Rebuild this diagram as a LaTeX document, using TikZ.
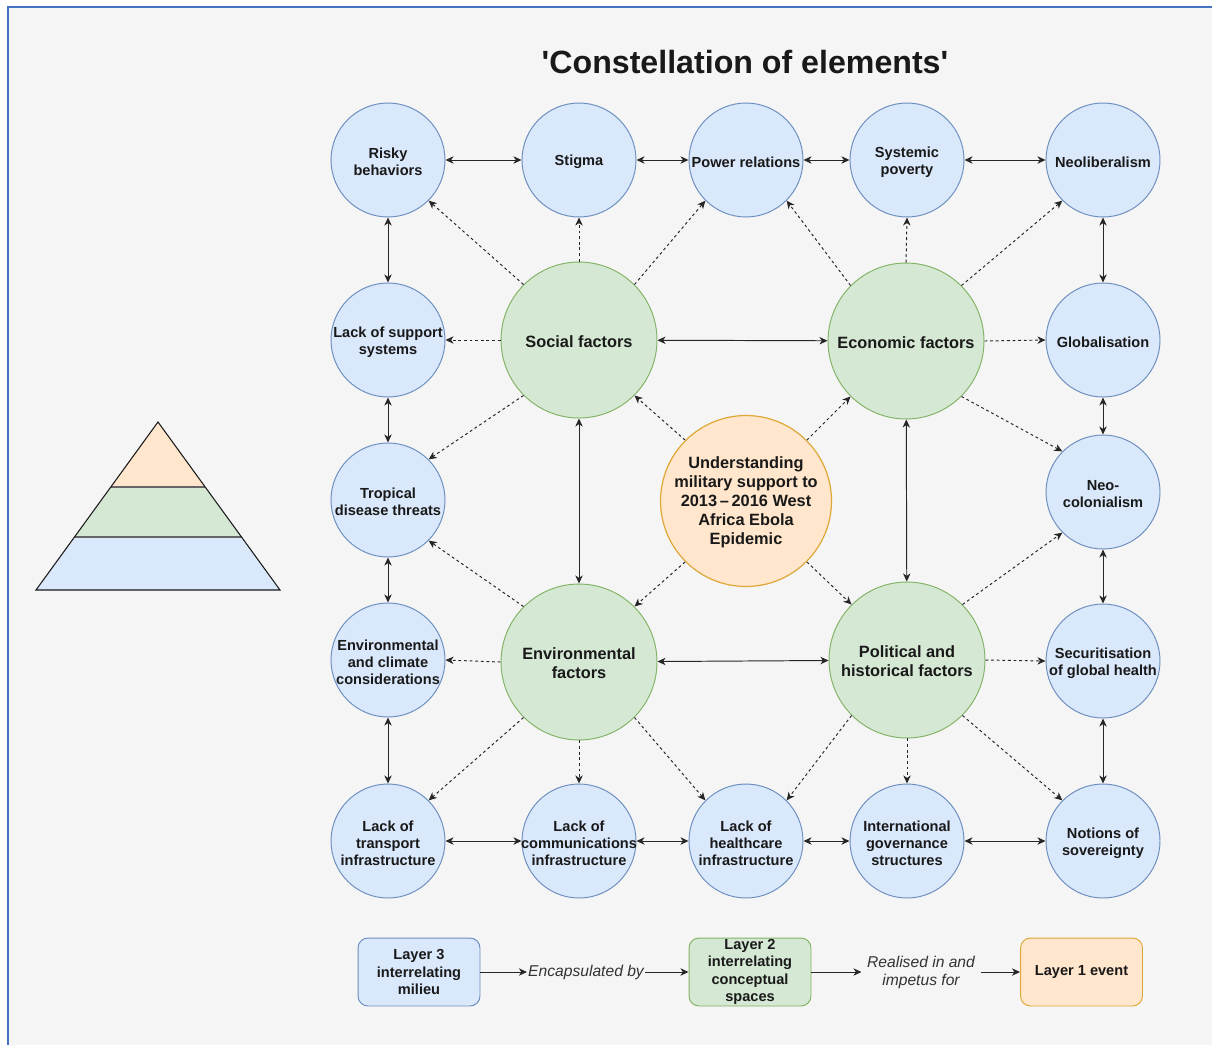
\documentclass[tikz,border=0pt]{standalone}
\usepackage{fontspec}
\setmainfont{Liberation Sans}
\newfontfamily\titlefont{Liberation Sans}[Ligatures=ResetAll]
\usetikzlibrary{arrows.meta}
\definecolor{bg}{HTML}{F5F5F5}
\definecolor{bfill}{HTML}{DAE8FC}
\definecolor{bline}{HTML}{6C8EBF}
\definecolor{gfill}{HTML}{D5E8D4}
\definecolor{gline}{HTML}{82B366}
\definecolor{ofill}{HTML}{FFE6CC}
\definecolor{oline}{HTML}{DFA93A}
\definecolor{frame}{HTML}{4472C4}
\newcommand\bcirc[3]{\node[bc] (#1) at (#2) {}; \node[bt] (#1-t) at (#1.center) {#3};}
\newcommand\gcirc[3]{\node[gc] (#1) at (#2) {}; \node[gt] (#1-t) at (#1.center) {#3};}
\begin{document}
\begin{tikzpicture}[x=0.02cm,y=-0.02cm,
  bc/.style={circle, draw=bline, fill=bfill, line width=0.55pt, minimum size=2.28cm, inner sep=0pt},
  gc/.style={circle, draw=gline, fill=gfill, line width=0.55pt, minimum size=3.12cm, inner sep=0pt},
  oc/.style={circle, draw=oline, fill=ofill, line width=0.7pt, minimum size=3.42cm, inner sep=0pt},
  bt/.style={font=\bfseries\fontsize{8.3}{9.7}\selectfont, align=center, inner sep=0pt, text=black!90, yshift=-1.1pt},
  gt/.style={font=\bfseries\fontsize{9.3}{10.8}\selectfont, align=center, inner sep=0pt, text=black!90, yshift=-0.9pt},
  bi/.style={{Stealth[length=4.6pt,width=4.2pt,inset=1.4pt]}-{Stealth[length=4.6pt,width=4.2pt,inset=1.4pt]}, line width=0.55pt, black!85},
  dotarr/.style={-{Stealth[length=4.6pt,width=4.2pt,inset=1.4pt]}, line width=0.55pt, dash pattern=on 1.6pt off 1.6pt, black!85},
  arr/.style={-{Stealth[length=4.6pt,width=4.2pt,inset=1.4pt]}, line width=0.55pt, black!85},
  lbox/.style={rectangle, rounded corners=0.2cm, minimum width=2.44cm, minimum height=1.36cm, line width=0.55pt, inner sep=0pt, align=center, font=\bfseries\fontsize{8.3}{9.9}\selectfont, text=black!90},
  itl/.style={font=\itshape\fontsize{8.9}{10.3}\selectfont, align=center, text=black!80}
]
\useasboundingbox (0,0) rectangle (1212,1045);
\fill[white] (0,0) rectangle (1212,1045);
\fill[bg] (8,7) rectangle (1212,1045);
\draw[frame, line width=1.6pt] (8,1045) -- (8,7) -- (1212,7);

% title
\node[font=\titlefont\bfseries\fontsize{18.3}{22}\selectfont, text=black!90] (title) at (745,62) {'Constellation of elements'};

% pyramid
\fill[ofill] (158,422) -- (205.2,487) -- (110.8,487) -- cycle;
\fill[gfill] (110.8,487) -- (205.2,487) -- (241.5,537) -- (74.5,537) -- cycle;
\fill[bfill] (74.5,537) -- (241.5,537) -- (280,590) -- (36,590) -- cycle;
\draw[black!60, line width=0.7pt] (110.8,487) -- (205.2,487) (74.5,537) -- (241.5,537);
\draw[black!90, line width=0.6pt] (158,422) -- (280,590) -- (36,590) -- cycle;

% blue circles
\bcirc{risky}{388,160}{Risky\\behaviors}
\bcirc{stigma}{579,160}{Stigma}
\bcirc{power}{746,160}{Power relations}
\bcirc{poverty}{907,160}{Systemic\\poverty}
\bcirc{neolib}{1103,160}{Neoliberalism}
\bcirc{support}{388,340}{Lack of support\\systems}
\bcirc{tropical}{388,500}{Tropical\\disease threats}
\bcirc{climate}{388,660}{Environmental\\and climate\\considerations}
\bcirc{transport}{388,841}{Lack of\\transport\\infrastructure}
\bcirc{comms}{579,841}{Lack of\\communications\\infrastructure}
\bcirc{health}{746,841}{Lack of\\healthcare\\infrastructure}
\bcirc{intl}{907,841}{International\\governance\\structures}
\bcirc{sovereign}{1103,841}{Notions of\\sovereignty}
\bcirc{global}{1103,340}{Globalisation}
\bcirc{neocol}{1103,492}{Neo-\\colonialism}
\bcirc{secur}{1103,661}{Securitisation\\of global health}

% green circles
\gcirc{social}{579,340}{Social factors}
\gcirc{econ}{906,341}{Economic factors}
\gcirc{env}{579,662}{Environmental\\factors}
\gcirc{polit}{907,660}{Political and\\historical factors}

% centre
\node[oc] (centre) at (746,501) {};
\node[gt] (centre-t) at (centre.center) {Understanding\\military support to\\2013\,–\,2016 West\\Africa Ebola\\Epidemic};

% solid double arrows
\draw[bi] (risky) -- (stigma);
\draw[bi] (stigma) -- (power);
\draw[bi] (power) -- (poverty);
\draw[bi] (poverty) -- (neolib);
\draw[bi] (risky) -- (support);
\draw[bi] (support) -- (tropical);
\draw[bi] (tropical) -- (climate);
\draw[bi] (climate) -- (transport);
\draw[bi] (neolib) -- (global);
\draw[bi] (global) -- (neocol);
\draw[bi] (neocol) -- (secur);
\draw[bi] (secur) -- (sovereign);
\draw[bi] (transport) -- (comms);
\draw[bi] (comms) -- (health);
\draw[bi] (health) -- (intl);
\draw[bi] (intl) -- (sovereign);
\draw[bi] (social) -- (econ);
\draw[bi] (social) -- (env);
\draw[bi] (econ) -- (polit);
\draw[bi] (env) -- (polit);

% dotted arrows from centre
\draw[dotarr] (centre.north west) -- (social.south east);
\draw[dotarr] (centre.north east) -- (econ.south west);
\draw[dotarr] (centre.south west) -- (env.north east);
\draw[dotarr] (centre.south east) -- (polit.north west);

% social
\draw[dotarr] (social.north west) -- (risky.south east);
\draw[dotarr] (social.north) -- (stigma.south);
\draw[dotarr] (social.north east) -- (power.south west);
\draw[dotarr] (social.west) -- (support.east);
\draw[dotarr] (social.south west) -- (tropical.north east);
% economic
\draw[dotarr] (econ.north west) -- (power.south east);
\draw[dotarr] (econ.north) -- (poverty.south);
\draw[dotarr] (econ.north east) -- (neolib.south west);
\draw[dotarr] (econ.east) -- (global.west);
\draw[dotarr] (econ.south east) -- (neocol.north west);
% environmental
\draw[dotarr] (env.north west) -- (tropical.south east);
\draw[dotarr] (env.west) -- (climate.east);
\draw[dotarr] (env.south west) -- (transport.north east);
\draw[dotarr] (env.south) -- (comms.north);
\draw[dotarr] (env.south east) -- (health.north west);
% political
\draw[dotarr] (polit.north east) -- (neocol.south west);
\draw[dotarr] (polit.east) -- (secur.west);
\draw[dotarr] (polit.south east) -- (sovereign.north west);
\draw[dotarr] (polit.south) -- (intl.north);
\draw[dotarr] (polit.south west) -- (health.north east);

% legend
\node[lbox, fill=bfill, draw=bline] (l3) at (419,972) {Layer 3\\interrelating\\milieu};
\node[lbox, fill=gfill, draw=gline] (l2) at (750,972) {Layer 2\\interrelating\\conceptual\\spaces};
\node[lbox, fill=ofill, draw=oline] (l1) at (1081.5,972) {Layer 1 event};
\node[itl, inner sep=0.5pt] (enc) at (586,972) {Encapsulated by};
\node[itl, inner sep=3pt] (real) at (921,972) {Realised in and\\impetus for};
\draw[arr] (l3) -- (enc);
\draw[arr] (enc) -- (l2);
\draw[arr] (l2) -- (real);
\draw[arr] (real) -- (l1);
\end{tikzpicture}
\end{document}
